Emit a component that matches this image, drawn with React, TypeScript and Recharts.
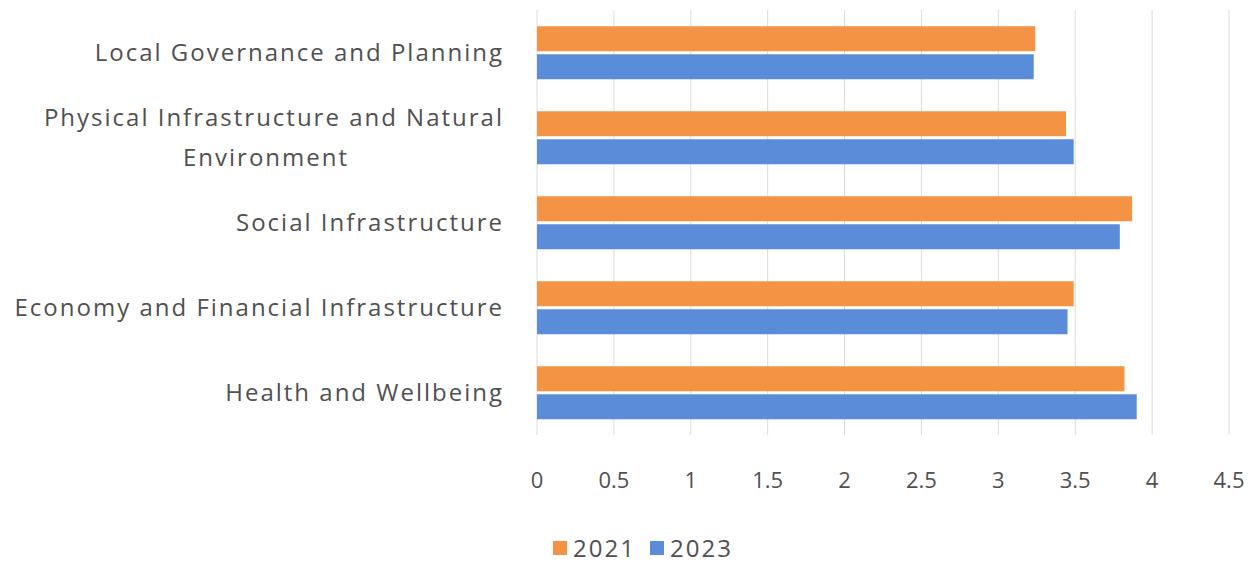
import React from 'react';
import { BarChart, Bar, XAxis, YAxis, CartesianGrid, Legend } from 'recharts';

const categories = [
    'Local Governance and Planning',
    'Physical Infrastructure and Natural Environment',
    'Social Infrastructure',
    'Economy and Financial Infrastructure',
    'Health and Wellbeing',
];
const values2021 = [3.24, 3.44, 3.87, 3.49, 3.82];
const values2023 = [3.23, 3.49, 3.79, 3.45, 3.9];
const xTicks = [0, 0.5, 1, 1.5, 2, 2.5, 3, 3.5, 4, 4.5];

const data = categories.map((name, i) => ({ name, y2021: values2021[i], y2023: values2023[i] }));

const ORANGE = '#F39343';
const BLUE = '#5B8CDA';
const TEXT = '#505050';
const FONT = '"Open Sans", sans-serif';

// split long category names over two lines
const wrap = (label: string, max = 36): string[] => {
    const lines: string[] = [];
    let cur = '';
    label.split(' ').forEach((w) => {
        const next = cur ? cur + ' ' + w : w;
        if (next.length > max && cur) {
            lines.push(cur);
            cur = w;
        } else {
            cur = next;
        }
    });
    if (cur) lines.push(cur);
    return lines;
};

const CategoryTick = (props: any) => {
    const { x, y, payload } = props;
    const lines = wrap(payload.value);
    const lh = 40;
    const start = -((lines.length - 1) * lh) / 2;
    const right = x + 7;
    const half = Math.round((lines[0].length * 13.6) / 2);
    return (
        <text fill={TEXT} fontSize={24} fontFamily={FONT} letterSpacing={2}>
            {lines.map((l, i) => (
                <tspan
                    key={i}
                    x={i === 0 ? right : right - half}
                    y={y + start + 8 + i * lh}
                    textAnchor={i === 0 ? 'end' : 'middle'}
                >
                    {l}
                </tspan>
            ))}
        </text>
    );
};

const LegendContent = () => (
    <div
        style={{
            display: 'flex',
            justifyContent: 'center',
            fontFamily: FONT,
            fontSize: 24,
            lineHeight: '30px',
            color: TEXT,
            letterSpacing: 2,
        }}
    >
        {[
            ['2021', ORANGE],
            ['2023', BLUE],
        ].map(([label, color]) => (
            <span key={label} style={{ display: 'flex', alignItems: 'center', marginRight: 14 }}>
                <span style={{ width: 14, height: 14, background: color, marginRight: 6, display: 'inline-block' }} />
                {label}
            </span>
        ))}
    </div>
);

const App: React.FC = () => {
    return (
        <div style={{ position: 'absolute', left: 0, top: 0, background: '#fff' }}>
            <BarChart
                width={1252}
                height={564}
                data={data}
                layout="vertical"
                margin={{ top: 10, right: 23, bottom: 0, left: 0 }}
                barCategoryGap="19%"
                barGap={3}
            >
                <CartesianGrid horizontal={false} stroke="#DCDCDC" />
                <XAxis
                    type="number"
                    domain={[0, 4.5]}
                    ticks={xTicks}
                    axisLine={false}
                    tickLine={false}
                    tickMargin={31}
                    height={97}
                    interval={0}
                    tick={{ fill: TEXT, fontSize: 22, fontFamily: FONT }}
                />
                <YAxis
                    type="category"
                    dataKey="name"
                    width={537}
                    axisLine={false}
                    tickLine={false}
                    tick={<CategoryTick />}
                    tickMargin={34}
                />
                <Legend
                    verticalAlign="bottom"
                    height={32}
                    content={<LegendContent />}
                    wrapperStyle={{ left: 530, width: 240, bottom: -1 }}
                />
                <Bar dataKey="y2021" name="2021" fill={ORANGE} isAnimationActive={false} />
                <Bar dataKey="y2023" name="2023" fill={BLUE} isAnimationActive={false} />
            </BarChart>
        </div>
    );
};

export default App;
